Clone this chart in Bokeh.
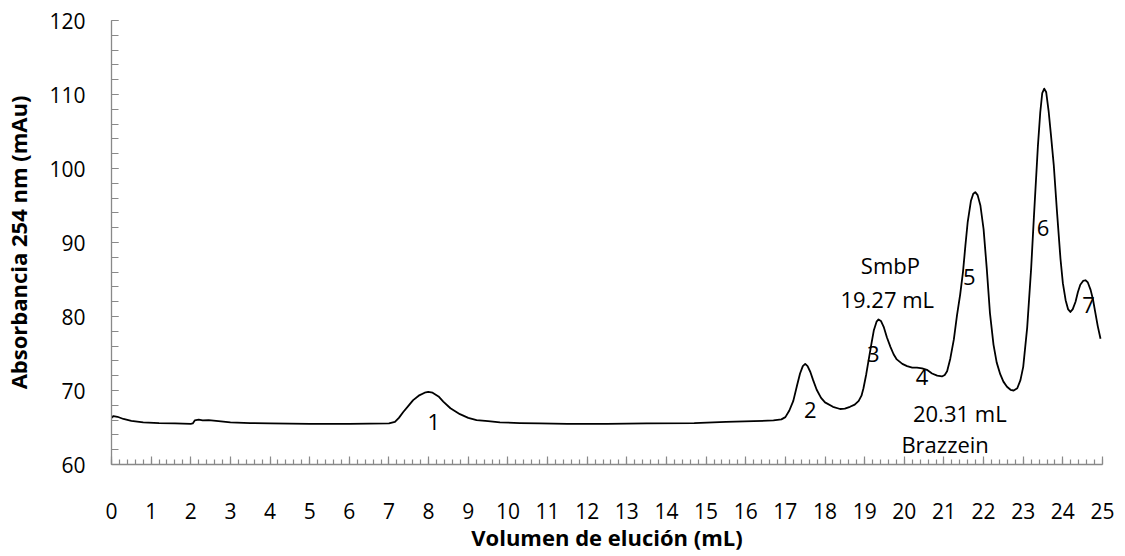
from bokeh.plotting import figure
from bokeh.models import Range1d, FixedTicker, ColumnDataSource
from bokeh.core.properties import value
from bokeh.embed import file_html
from bokeh.resources import INLINE

# Elution volume (mL) and absorbance at 254 nm (mAu)
volume = [0.0, 0.05, 0.15, 0.3, 0.5, 0.8, 1.2, 1.6, 2.0, 2.05, 2.1, 2.2, 2.3, 2.45, 2.7,
          3.0, 3.5, 4.0, 5.0, 6.0, 7.0, 7.15, 7.25, 7.36, 7.5, 7.61, 7.75, 7.9, 7.99, 8.1,
          8.25, 8.37, 8.55, 8.79, 9.0, 9.21, 9.5, 9.8, 10.3, 10.8, 11.5, 12.5, 13.5, 14.7,
          15.5, 16.2, 16.7, 16.9, 17.0, 17.1, 17.2, 17.3, 17.37, 17.44, 17.5, 17.56, 17.63,
          17.7, 17.79, 17.9, 18.0, 18.2, 18.38, 18.5, 18.63, 18.75, 18.85, 18.92, 18.97,
          19.04, 19.1, 19.17, 19.23, 19.3, 19.35, 19.41, 19.48, 19.56, 19.65, 19.73, 19.81,
          19.95, 20.07, 20.2, 20.32, 20.45, 20.57, 20.7, 20.83, 20.95, 21.02, 21.08, 21.16,
          21.25, 21.33, 21.41, 21.48, 21.54, 21.6, 21.68, 21.74, 21.79, 21.85, 21.92, 22.0,
          22.08, 22.16, 22.25, 22.33, 22.42, 22.5, 22.59, 22.68, 22.76, 22.85, 22.93, 23.0,
          23.1, 23.2, 23.27, 23.37, 23.43, 23.48, 23.53, 23.58, 23.64, 23.7, 23.77, 23.85,
          23.94, 24.0, 24.07, 24.13, 24.19, 24.25, 24.32, 24.38, 24.44, 24.51, 24.57, 24.63,
          24.7, 24.76, 24.82, 24.88, 24.95]
absorbance = [66.3, 66.55, 66.45, 66.15, 65.9, 65.7, 65.6, 65.55, 65.5, 65.55, 65.95, 66.05,
              65.95, 66.0, 65.85, 65.7, 65.6, 65.55, 65.5, 65.5, 65.55, 65.75, 66.3, 67.1,
              68.0, 68.7, 69.3, 69.7, 69.8, 69.7, 69.2, 68.5, 67.6, 66.8, 66.3, 66.0, 65.85,
              65.7, 65.6, 65.55, 65.5, 65.5, 65.55, 65.6, 65.75, 65.85, 65.95, 66.1, 66.4,
              67.3, 68.6, 70.8, 72.3, 73.3, 73.6, 73.3, 72.5, 71.4, 70.1, 69.0, 68.4, 67.8,
              67.5, 67.55, 67.8, 68.1, 68.6, 69.3, 70.3, 72.2, 74.1, 76.3, 78.1, 79.3, 79.6,
              79.4, 78.6, 77.2, 75.9, 74.9, 74.2, 73.6, 73.3, 73.1, 73.1, 73.0, 72.8, 72.3,
              72.0, 71.9, 72.1, 72.6, 74.3, 76.9, 80.2, 83.0, 86.0, 89.5, 92.8, 95.6, 96.6,
              96.8, 96.4, 95.0, 91.8, 86.5, 80.5, 76.2, 73.8, 72.2, 71.2, 70.5, 70.1, 70.0,
              70.3, 71.4, 73.2, 78.5, 86.5, 93.5, 103.0, 107.6, 110.2, 110.8, 110.3, 107.8,
              104.5, 100.5, 94.3, 87.8, 84.5, 82.2, 81.0, 80.6, 81.0, 82.0, 83.3, 84.3, 84.8,
              84.9, 84.6, 83.6, 82.3, 80.5, 78.7, 77.0]

# Peak annotations
label_text = ["1", "2", "3", "4", "5", "6", "7",
              "SmbP", "19.27 mL", "20.31 mL", "Brazzein"]
label_x = [8.13, 17.63, 19.22, 20.45, 21.64, 23.5, 24.65, 19.65, 19.57, 21.4, 21.03]
label_y = [65.7, 67.3, 75.0, 71.8, 85.4, 91.9, 81.6, 86.9, 82.4, 66.9, 62.8]

x_ticks = list(range(0, 26))
y_ticks = list(range(60, 121, 10))

FONT = "Open Sans"
AXIS_GRAY = "#898989"

p = figure(width=1117, height=556, output_backend="svg", toolbar_location=None,
           x_range=Range1d(0, 25), y_range=Range1d(60, 120),
           min_border_left=111, min_border_right=15, min_border_top=20,
           min_border_bottom=92)
p.outline_line_color = None
p.xgrid.grid_line_color = None
p.ygrid.grid_line_color = None

p.line(volume, absorbance, line_color="black", line_width=1.8, line_join="round")

src = ColumnDataSource(dict(x=label_x, y=label_y, t=label_text))
p.text("x", "y", text="t", source=src, text_font=value(FONT), text_font_size="22px",
       text_color="black", text_align="center", text_baseline="middle")

xa = p.xaxis[0]
xa.ticker = FixedTicker(ticks=x_ticks, minor_ticks=[i / 5 for i in range(0, 126)])
ya = p.yaxis[0]
ya.ticker = FixedTicker(ticks=y_ticks, minor_ticks=list(range(60, 121, 2)))

for ax in (xa, ya):
    ax.axis_line_color = AXIS_GRAY
    ax.axis_line_width = 1.3
    ax.major_tick_line_color = AXIS_GRAY
    ax.minor_tick_line_color = AXIS_GRAY
    ax.major_tick_line_width = 1.2
    ax.minor_tick_line_width = 1.2
    ax.major_tick_out = 0
    ax.minor_tick_out = 0
    ax.major_label_text_font = FONT
    ax.major_label_text_font_size = "21px"
    ax.major_label_text_color = "black"
    ax.axis_label_text_font = FONT
    ax.axis_label_text_font_size = "22px"
    ax.axis_label_text_font_style = "bold"
    ax.axis_label_text_color = "black"

xa.major_tick_in = 8
xa.minor_tick_in = 5
ya.major_tick_in = 7
ya.minor_tick_in = 7
xa.major_label_standoff = 38
ya.major_label_standoff = 26
xa.axis_label_standoff = 0
ya.axis_label_standoff = 13
xa.axis_label = "Volumen de elución (mL)"
ya.axis_label = "Absorbancia 254 nm (mAu)"

open("out.html", "w").write(file_html(p, INLINE))
